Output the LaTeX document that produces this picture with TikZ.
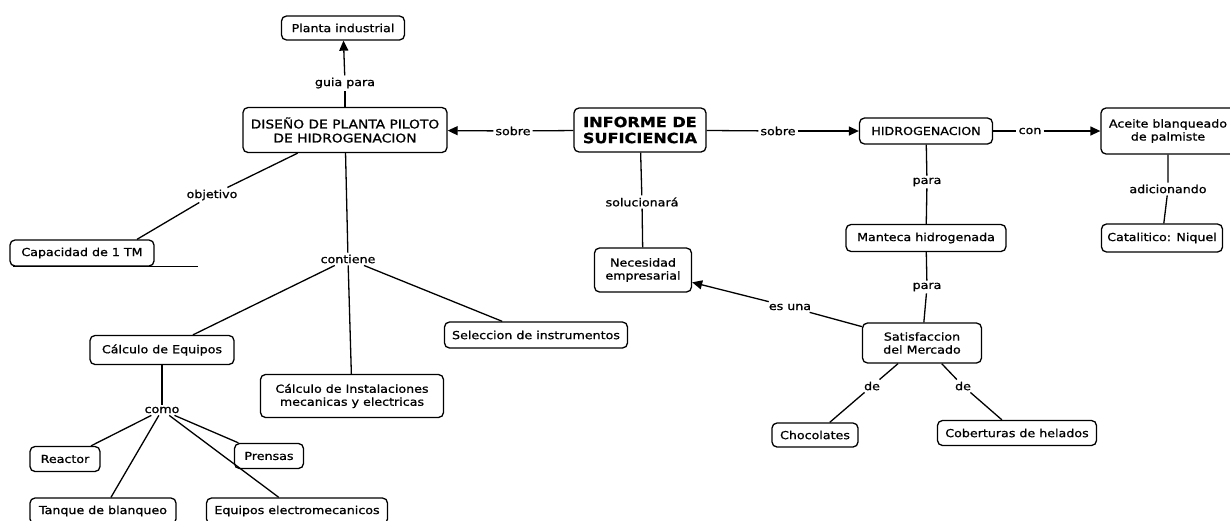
\documentclass[tikz,border=0pt]{standalone}
\usepackage{fontspec}
\setmainfont[FakeStretch=1.15,FakeBold=1]{DejaVu Sans}
\usetikzlibrary{arrows.meta}
\begin{document}
\begin{tikzpicture}[x=1pt,y=-1pt,
  box/.style={draw, rounded corners=5pt, line width=1.3pt, align=center, inner sep=2pt, font=\fontsize{11}{13}\selectfont},
  lbl/.style={inner sep=2pt, font=\fontsize{11}{13}\selectfont},
  link/.style={line width=1.3pt},
  arr/.style={line width=1.3pt, -{Triangle[length=10pt,width=9pt]}}]
\useasboundingbox (0,0) rectangle (1230,520);
\fill[white] (0,0) rectangle (1230,520);
\clip (0,0) rectangle (1230,520);

\node[box, minimum width=123pt, minimum height=24pt] (planta) at (343,28) {Planta industrial};
\node[lbl] (guia) at (345,83) {guia para};
\node[box, minimum width=204pt, minimum height=45pt, font=\fontsize{12}{14}\selectfont] (diseno) at (345,130) {DISEÑO DE PLANTA PILOTO\\DE HIDROGENACION};
\node[box, font=\bfseries\fontsize{14}{16}\selectfont, minimum width=132pt, minimum height=44pt] (informe) at (640,130) {INFORME DE\\SUFICIENCIA};
\node[lbl] (sobreL) at (513,131) {sobre};
\node[lbl] (sobreR) at (778,131) {sobre};
\node[box, minimum width=133pt, minimum height=26pt] (hidro) at (926,131) {HIDROGENACION};
\node[lbl] (con) at (1030,131) {con};
\node[box, minimum width=134pt, minimum height=46pt] (aceite) at (1168,131) {Aceite blanqueado\\de palmiste};
\node[lbl] (adic) at (1168,189) {adicionando};
\node[box, minimum width=121pt, minimum height=28pt] (catal) at (1162,238) {Catalitico: Niquel};
\node[lbl] (para1) at (927,182) {para};
\node[box, minimum width=160pt, minimum height=27pt] (manteca) at (926,238) {Manteca hidrogenada};
\node[lbl] (para2) at (927,287) {para};
\node[box, minimum width=119pt, minimum height=40pt] (sat) at (922,343) {Satisfaccion\\del Mercado};
\node[lbl] (esuna) at (790,307) {es una};
\node[box, minimum width=97pt, minimum height=44pt] (neces) at (643,270) {Necesidad\\empresarial};
\node[lbl] (soluc) at (642,202) {solucionará};
\node[lbl] (deL) at (872,386) {de};
\node[lbl] (deR) at (963,386) {de};
\node[box, minimum width=86pt, minimum height=24pt] (choco) at (815,435) {Chocolates};
\node[box, minimum width=159pt, minimum height=25pt] (cober) at (1017,433) {Coberturas de helados};
\node[lbl] (obj) at (212,195) {objetivo};
\node[box, minimum width=144pt, minimum height=26pt] (capac) at (82,253) {Capacidad de 1 TM};
\node[lbl] (cont) at (348,259) {contiene};
\node[box, minimum width=144pt, minimum height=29pt] (calceq) at (162,350) {Cálculo de Equipos};
\node[box, minimum width=183pt, minimum height=26pt] (selec) at (536,335) {Seleccion de instrumentos};
\node[box, minimum width=183pt, minimum height=43pt] (instal) at (352,396) {Cálculo de Instalaciones\\mecanicas y electricas};
\node[lbl] (como) at (162,410) {como};
\node[box, minimum width=70pt, minimum height=25pt] (reactor) at (65,459) {Reactor};
\node[box, minimum width=69pt, minimum height=25pt] (prensas) at (269,456) {Prensas};
\node[box, minimum width=146pt, minimum height=26pt] (tanque) at (103,511) {Tanque de blanqueo};
\node[box, minimum width=181pt, minimum height=26pt] (electro) at (297,511) {Equipos electromecanicos};

\draw[link] (diseno) -- (guia); \draw[arr] (guia) -- (planta);
\draw[link] (informe) -- (sobreL); \draw[arr] (sobreL) -- (diseno);
\draw[link] (informe) -- (sobreR); \draw[arr] (sobreR) -- (hidro);
\draw[link] (hidro) -- (con); \draw[arr] (con) -- (aceite);
\draw[link] (aceite) -- (adic) -- (catal);
\draw[link] (hidro) -- (para1) -- (manteca);
\draw[link] (manteca) -- (para2) -- (sat);
\draw[link] (sat) -- (esuna); \draw[arr] (esuna) -- (neces);
\draw[link] (informe) -- (soluc) -- (neces);
\draw[link] (sat) -- (deL) -- (choco);
\draw[link] (sat) -- (deR) -- (cober);
\draw[link] (diseno) -- (obj) -- ([xshift=55pt]capac.north);
\draw[link] (diseno) -- (cont);
\draw[link] (cont) -- (calceq);
\draw[link] (cont) -- (instal);
\draw[link] (cont) -- (selec);
\draw[link] (calceq) -- (como);
\draw[link] (como) -- (reactor);
\draw[link] (como) -- (tanque);
\draw[link] (como) -- (electro);
\draw[link] (como) -- (prensas);
\draw[link] ([xshift=4pt]capac.south west) -- ([xshift=43pt]capac.south east);
\end{tikzpicture}
\end{document}
